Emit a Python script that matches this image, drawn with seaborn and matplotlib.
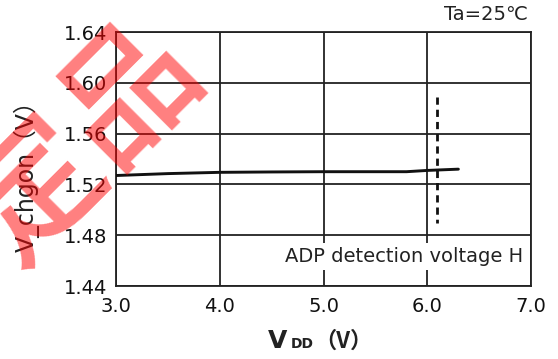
import matplotlib
matplotlib.use("Agg")
import matplotlib.pyplot as plt
import seaborn as sns
import pandas as pd

vdd = [3.0, 3.5, 4.0, 4.5, 5.0, 5.5, 5.8, 6.0, 6.3]
vchgon = [1.527, 1.5285, 1.5295, 1.5298, 1.530, 1.530, 1.530, 1.531, 1.532]
detect_x = [6.09, 6.09]
detect_y = [1.589, 1.4896]
xticks = [3.0, 4.0, 5.0, 6.0, 7.0]
yticks = [1.44, 1.48, 1.52, 1.56, 1.60, 1.64]

sns.set_style("white")
plt.rcParams['font.family'] = ['DejaVu Sans', 'Noto Sans CJK JP']

fig = plt.figure(figsize=(5.58, 3.59), dpi=100)
ax = fig.add_axes([116/558, 1-286/359, (531-116)/558, (286-32)/359])

df = pd.DataFrame({"vdd": vdd, "v": vchgon})
sns.lineplot(data=df, x="vdd", y="v", ax=ax, color="#111111", lw=2.1, zorder=3)
ax.plot(detect_x, detect_y, color="#111111", lw=2.0, ls=(0, (2.6, 1.8)), zorder=3)

ax.set_xlim(3.0, 7.0)
ax.set_ylim(1.44, 1.64)
ax.set_xticks(xticks)
ax.set_yticks(yticks)
ax.set_xticklabels([f"{t:.1f}" for t in xticks], fontsize=14)
ax.set_yticklabels([f"{t:.2f}" for t in yticks], fontsize=14)
ax.tick_params(axis="x", length=0, pad=8, colors="#111111")
ax.tick_params(axis="y", length=0, pad=6.5, colors="#111111")
ax.grid(True, color="#222222", lw=1.3)
for s in ax.spines.values():
    s.set_color("#222222")
    s.set_linewidth(1.3)

ax.set_xlabel("")
ax.set_ylabel("")

# x label: V_DD (V)
fig.text(268/558, 1-348/359, "V", fontsize=18, fontweight="bold", ha="left", va="baseline", color="#222222")
fig.text(291/558, 1-348/359, "DD", fontsize=10, fontweight="bold", ha="left", va="baseline", color="#222222")
fig.text(343/558, 1-348/359, "（V）", fontsize=16, fontweight="bold", ha="center", va="baseline", color="#222222",
         family=['Noto Sans CJK JP', 'DejaVu Sans'])
# y label
fig.text(27/558, 1-170/359, "V_chgon（V）", fontsize=17, rotation=90, ha="center", va="center",
         color="#222222")

ax.text(6.923, 1.4635, "ADP detection voltage H", fontsize=14, ha="right", va="center", color="#222222",
        bbox=dict(facecolor="white", edgecolor="none", pad=3), zorder=4)
fig.text(528/558, 1-15/359, "Ta=25℃", fontsize=14, ha="right", va="center", color="#222222")

fig.text(84/558, 1-144/359, "定品", fontsize=98, rotation=45, ha="center", va="center",
         color="red", alpha=0.5, fontweight=500,
         family=['Noto Sans CJK JP', 'DejaVu Sans'])

fig.savefig("out.png", dpi=100)
